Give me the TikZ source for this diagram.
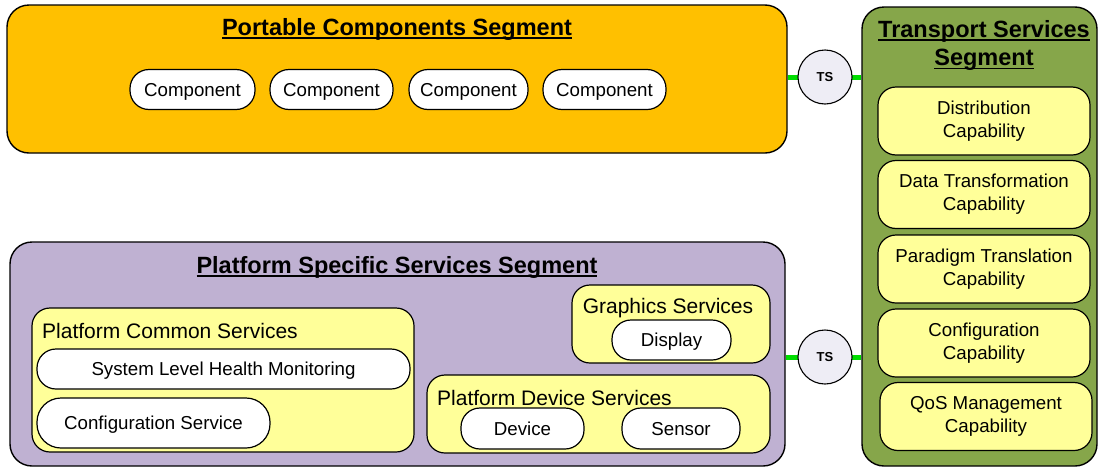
\documentclass[tikz,border=0pt]{standalone}
\usepackage{fontspec}
\setmainfont{Liberation Sans}
\usetikzlibrary{backgrounds}
\definecolor{segorange}{HTML}{FFC000}
\definecolor{seggreen}{HTML}{86A64A}
\definecolor{segpurple}{HTML}{BFB1D2}
\definecolor{capyellow}{HTML}{FFFF99}
\definecolor{tsfill}{HTML}{EEEDF5}
\definecolor{linkgreen}{HTML}{00DD00}
% underlined heading text
\newcommand\ulText[1]{\setbox0\hbox{#1}\rlap{\rule[-3.5pt]{\wd0}{1.6pt}}\box0}
\begin{document}
\begin{tikzpicture}[x=1pt,y=-1pt,
  seg/.style={draw=black,line width=1.4pt,rounded corners=22pt,inner sep=0pt},
  grp/.style={draw=black,fill=capyellow,line width=1.2pt,rounded corners=18pt,inner sep=0pt},
  pill/.style={draw=black,fill=white,line width=1.2pt,rounded corners=19pt,inner sep=0pt,
    text height=16.5pt,text depth=3pt,font=\fontsize{18.7}{22}\selectfont},
  capbox/.style={draw=black,fill=capyellow,line width=1.2pt,rounded corners=18pt,inner sep=0pt,
    align=center,minimum width=212pt,minimum height=68pt,font=\fontsize{18.7}{23}\selectfont},
  segtitle/.style={font=\fontsize{23.5}{29}\selectfont\bfseries,inner sep=0pt,align=center},
  grptitle/.style={font=\fontsize{21}{24}\selectfont,inner sep=0pt},
  tscircle/.style={circle,draw=black,fill=tsfill,line width=1.1pt,minimum size=54pt,inner sep=0pt,
    font=\fontsize{13}{15}\selectfont\bfseries},
  greenlink/.style={draw=linkgreen,line width=5pt}]
\useasboundingbox (0,0) rectangle (1100,469);

% Portable Components Segment
\node[seg,fill=segorange,minimum width=780pt,minimum height=148pt] (pcs) at (397,79) {};
\node[segtitle] (pcsT) at (397,29.5) {\ulText{Portable Components Segment}};
\node[pill,minimum width=125pt,minimum height=40pt] (c1) at (192.5,89.5) {Component};
\node[pill,minimum width=123pt,minimum height=40pt] (c2) at (331.5,89.5) {Component};
\node[pill,minimum width=119pt,minimum height=40pt] (c3) at (468.5,89.5) {Component};
\node[pill,minimum width=123pt,minimum height=40pt] (c4) at (604.5,89.5) {Component};

% Transport Services Segment
\node[seg,fill=seggreen,minimum width=235pt,minimum height=459pt] (tss) at (979.5,236.5) {};
\node[segtitle] (tssT1) at (984,31.5) {\ulText{Transport Services}};
\node[segtitle] (tssT2) at (984,60) {\ulText{Segment}};
\node[capbox] (cap1) at (984,121) {Distribution\\Capability};
\node[capbox] (cap2) at (984,194.5) {Data Transformation\\Capability};
\node[capbox] (cap3) at (984,269) {Paradigm Translation\\Capability};
\node[capbox] (cap4) at (984,343) {Configuration\\Capability};
\node[capbox] (cap5) at (986,416.5) {QoS Management\\Capability};

% Platform Specific Services Segment
\node[seg,fill=segpurple,minimum width=775pt,minimum height=224pt] (pss) at (397.5,354) {};
\node[segtitle] (pssT) at (397,267.5) {\ulText{Platform Specific Services Segment}};

\node[grp,minimum width=382pt,minimum height=144pt] (common) at (223,380) {};
\node[grptitle,anchor=west] (commonT) at (42,331) {Platform Common Services};
\node[pill,minimum width=373pt,minimum height=40pt] (health) at (223.5,369) {System Level Health Monitoring};
\node[pill,rounded corners=24pt,minimum width=233pt,minimum height=50pt] (config) at (153.5,423) {Configuration Service};

\node[grp,minimum width=198pt,minimum height=78pt] (graphics) at (671,324) {};
\node[grptitle] (graphicsT) at (668,308) {Graphics Services};
\node[pill,minimum width=119pt,minimum height=40pt] (display) at (671.5,340) {Display};

\node[grp,minimum width=343pt,minimum height=78pt] (device) at (598.5,414) {};
\node[grptitle,anchor=west] (deviceT) at (437,398) {Platform Device Services};
\node[pill,minimum width=123pt,minimum height=41pt] (dev) at (522.5,428.5) {Device};
\node[pill,minimum width=118pt,minimum height=41pt] (sensor) at (681,428.5) {Sensor};

% Transport service interfaces
\node[tscircle] (ts1) at (825,77) {TS};
\node[tscircle] (ts2) at (825,357) {TS};
\begin{scope}[on background layer]
  \draw[greenlink] (ts1.center -| pcs.east) -- (ts1.center) -- (ts1.center -| tss.west);
  \draw[greenlink] (ts2.center -| pss.east) -- (ts2.center) -- (ts2.center -| tss.west);
\end{scope}
\end{tikzpicture}
\end{document}
